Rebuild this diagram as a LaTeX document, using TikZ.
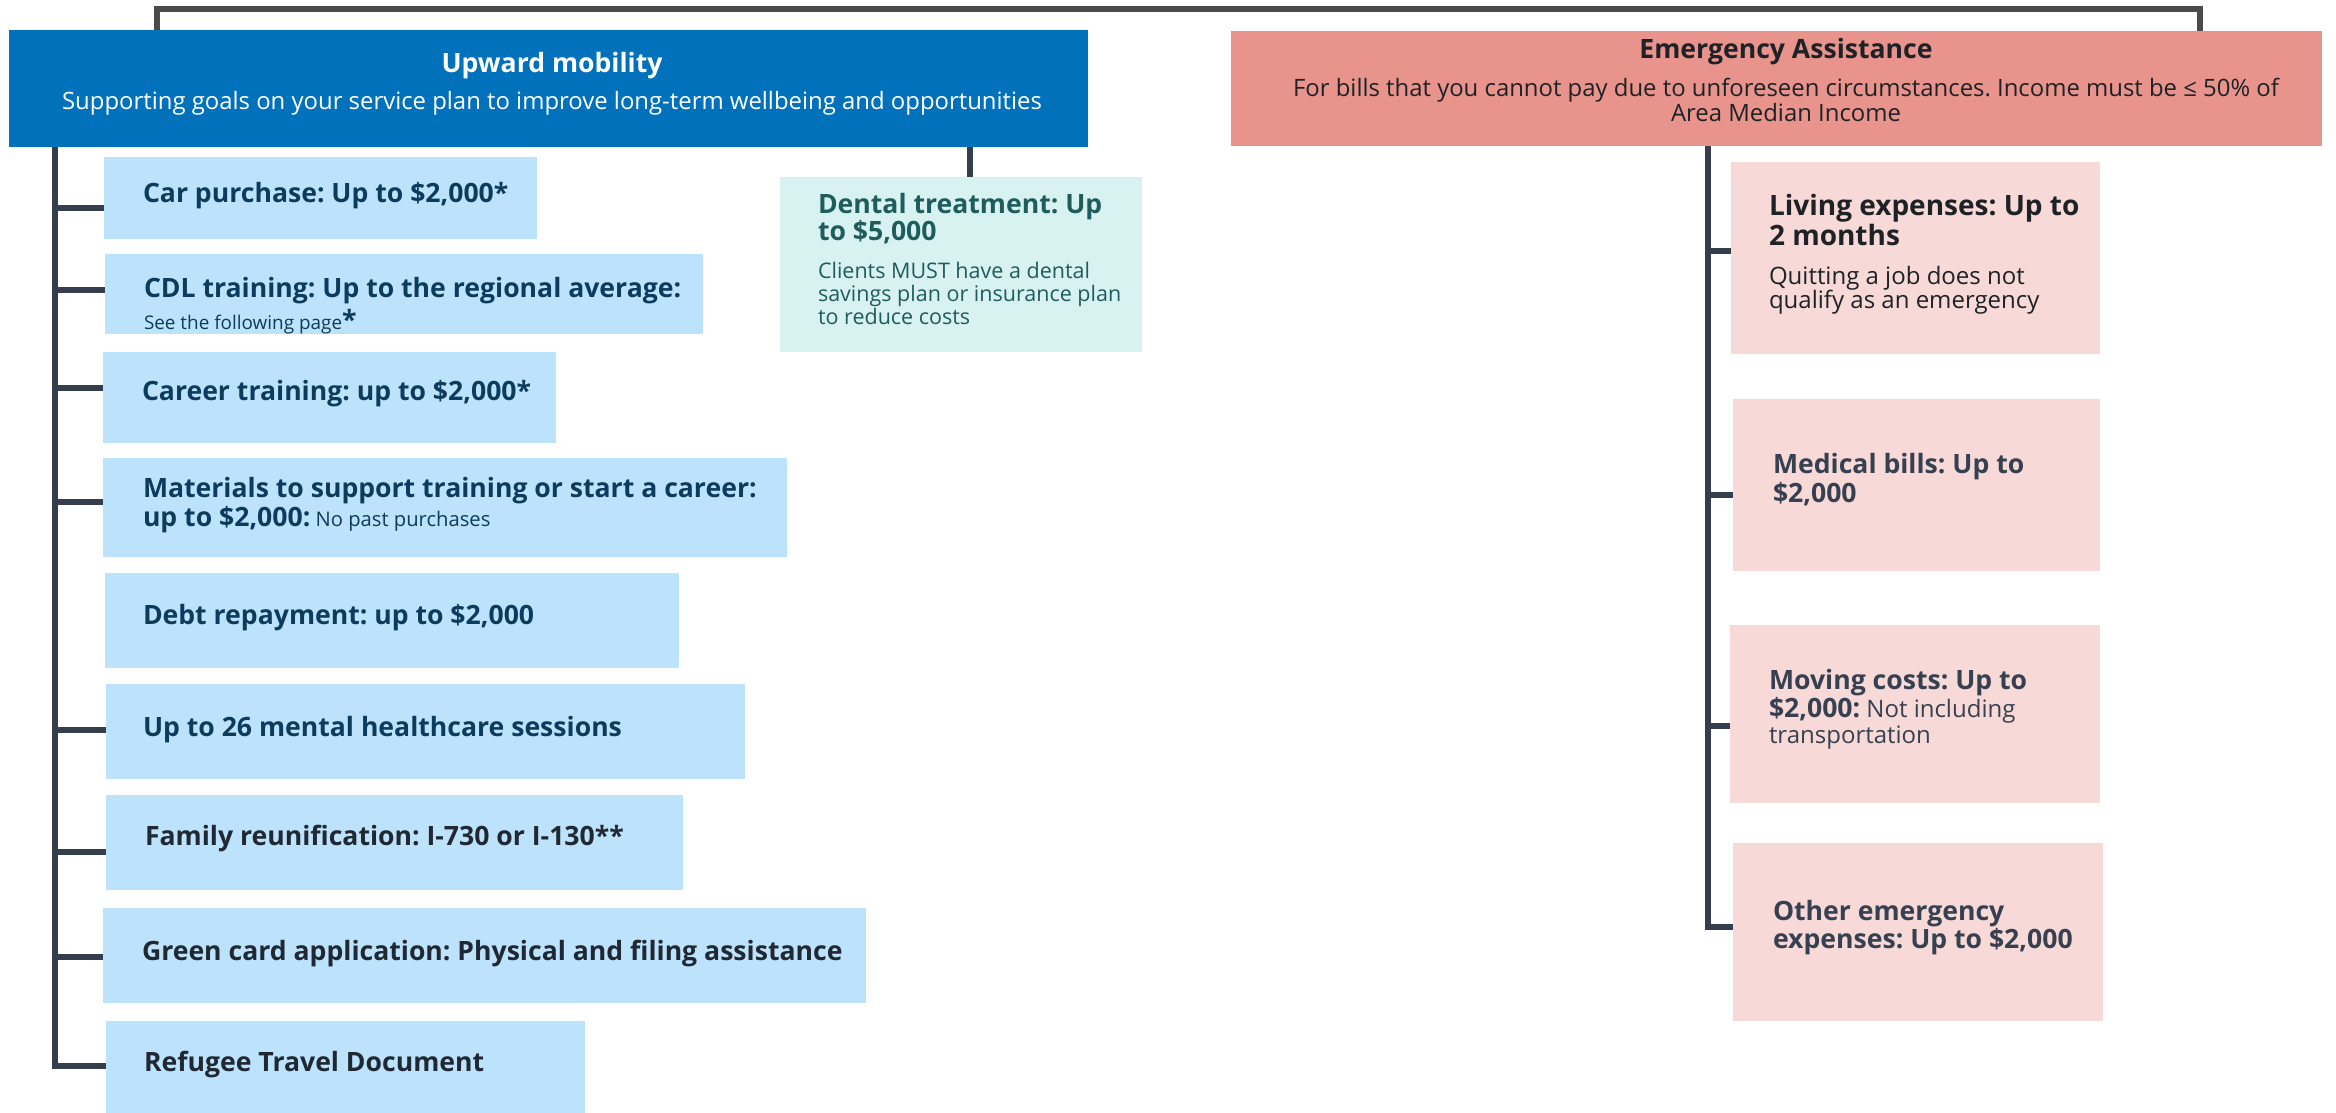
\documentclass[tikz,border=0pt]{standalone}
\usepackage{fontspec}
\setmainfont{Open Sans}
\frenchspacing
\definecolor{hdrblue}{HTML}{0171BB}
\definecolor{hdrred}{HTML}{E8938B}
\definecolor{itemblue}{HTML}{BDE3FC}
\definecolor{itempink}{HTML}{F7D9D7}
\definecolor{itemteal}{HTML}{D8F2F2}
\definecolor{connc}{HTML}{353E4C}
\definecolor{topc}{HTML}{4B4B4B}
\definecolor{navy}{HTML}{0D3B5E}
\definecolor{darkt}{HTML}{1F2833}
\definecolor{slate}{HTML}{364050}
\definecolor{tealt}{HTML}{1F5C5C}
\definecolor{blackt}{HTML}{1E2226}
\newcommand\fti{\fontsize{26.6}{30}\selectfont\bfseries}
\newcommand\ftl{\fontsize{28}{32}\selectfont\bfseries}
\newcommand\fsub{\fontsize{23.9}{27}\selectfont}
\newcommand\fbody{\fontsize{24}{27}\selectfont}
\newcommand\fdent{\fontsize{21.5}{24}\selectfont}
\begin{document}
\begin{tikzpicture}[x=1pt,y=-1pt,
  bx/.style={anchor=north west, inner sep=0pt, outer sep=0pt, draw=none},
  ln/.style={anchor=base west, inner sep=0pt, outer sep=0pt},
  lc/.style={anchor=base, inner sep=0pt, outer sep=0pt},
  conn/.style={draw=connc, line width=6pt},
  topln/.style={draw=topc, line width=6pt},
  bluebox/.style={bx, fill=itemblue},
  pinkbox/.style={bx, fill=itempink},
  ti/.style={font=\fti},
]
\path[use as bounding box, fill=white] (0,0) rectangle (2336,1113);

% top connector ends
\coordinate (tL) at (157,9);
\coordinate (tR) at (2200,9);

% headers
\node[bx, fill=hdrblue, minimum width=1079pt, minimum height=117pt] (hdrL) at (9,30) {};
\node[bx, fill=hdrred, minimum width=1091pt, minimum height=115pt] (hdrR) at (1231,31) {};
\draw[topln] (hdrL.north -| tL) -- (tL) -- (tR) -- (hdrR.north -| tR);

% left items
\node[bluebox, minimum width=433pt, minimum height=82pt] (car) at (104,157) {};
\node[bluebox, minimum width=598pt, minimum height=80pt] (cdl) at (105,254) {};
\node[bluebox, minimum width=453pt, minimum height=91pt] (career) at (103,352) {};
\node[bluebox, minimum width=684pt, minimum height=99pt] (mat) at (103,458) {};
\node[bluebox, minimum width=574pt, minimum height=95pt] (debt) at (105,573) {};
\node[bluebox, minimum width=639pt, minimum height=95pt] (mental) at (106,684) {};
\node[bluebox, minimum width=577pt, minimum height=95pt] (family) at (106,795) {};
\node[bluebox, minimum width=763pt, minimum height=95pt] (green) at (103,908) {};
\node[bluebox, minimum width=479pt, minimum height=92pt] (ref) at (106,1021) {};
\node[bx, fill=itemteal, minimum width=362pt, minimum height=175pt] (dental) at (780,177) {};

% right items
\node[pinkbox, minimum width=369pt, minimum height=192pt] (living) at (1731,162) {};
\node[pinkbox, minimum width=367pt, minimum height=172pt] (medical) at (1733,399) {};
\node[pinkbox, minimum width=370pt, minimum height=178pt] (moving) at (1730,625) {};
\node[pinkbox, minimum width=370pt, minimum height=178pt] (other) at (1733,843) {};

% left spine and branches
\coordinate (sL) at (55,0);
\draw[conn] (hdrL.south -| sL) |- ([yshift=-45pt]ref.north west);
\draw[conn] ([yshift=-51pt]car.north west -| sL) -- ([yshift=-51pt]car.north west);
\draw[conn] ([yshift=-36pt]cdl.north west -| sL) -- ([yshift=-36pt]cdl.north west);
\draw[conn] ([yshift=-36pt]career.north west -| sL) -- ([yshift=-36pt]career.north west);
\draw[conn] ([yshift=-44pt]mat.north west -| sL) -- ([yshift=-44pt]mat.north west);
\draw[conn] ([yshift=-46pt]mental.north west -| sL) -- ([yshift=-46pt]mental.north west);
\draw[conn] ([yshift=-57pt]family.north west -| sL) -- ([yshift=-57pt]family.north west);
\draw[conn] ([yshift=-49pt]green.north west -| sL) -- ([yshift=-49pt]green.north west);

% dental connector
\coordinate (dx) at (970,0);
\draw[conn] (hdrL.south -| dx) -- (dental.north -| dx);

% right spine and branches
\coordinate (sR) at (1708,0);
\draw[conn] (hdrR.south -| sR) |- ([yshift=-84pt]other.north west);
\draw[conn] ([yshift=-89pt]living.north west -| sR) -- ([yshift=-89pt]living.north west);
\draw[conn] ([yshift=-96pt]medical.north west -| sR) -- ([yshift=-96pt]medical.north west);
\draw[conn] ([yshift=-101pt]moving.north west -| sR) -- ([yshift=-101pt]moving.north west);

% header texts
\node[lc, ti, text=white] (hdrLt) at (552,73) {Upward mobility};
\node[lc, font=\fsub, text=white] (hdrLs) at (552,110) {Supporting goals on your service plan to improve long-term wellbeing and opportunities};
\node[lc, ti, text=blackt] (hdrRt) at (1786,59) {Emergency Assistance};
\node[lc, font=\fsub, text=blackt] (hdrRs1) at (1786,97) {For bills that you cannot pay due to unforeseen circumstances. Income must be ≤ 50\% of};
\node[lc, font=\fsub, text=blackt] (hdrRs2) at (1786,122) {Area Median Income};

% left item texts
\node[ln, ti, text=navy] (cart) at (143,202) {Car purchase: Up to \$2,000*};
\node[ln, ti, text=navy] (cdlt1) at (144,297) {CDL training: Up to the regional average:};
\node[ln, text=navy] (cdlt2) at (144,329) {{\fontsize{18.9}{22}\selectfont See the following page}{\fti*}};
\node[ln, ti, text=navy] (careert) at (142,400) {Career training: up to \$2,000*};
\node[ln, ti, text=navy] (matt1) at (143,497) {Materials to support training or start a career:};
\node[ln, text=navy] (matt2) at (143,526) {{\fti up to \$2,000:}{\fontsize{20.2}{23}\selectfont\ No past purchases}};
\node[ln, ti, text=navy] (debtt) at (143,624) {Debt repayment: up to \$2,000};
\node[ln, ti, text=navy] (mentalt) at (143,736) {Up to 26 mental healthcare sessions};
\node[ln, ti, text=darkt] (familyt) at (145,845) {Family reunification: I-730 or I-130**};
\node[ln, ti, text=darkt] (greent) at (142,960) {Green card application: Physical and filing assistance};
\node[ln, ti, text=darkt] (reft) at (144,1071) {Refugee Travel Document};

% dental texts
\node[ln, ti, text=tealt] (dent1) at (818,213) {Dental treatment: Up};
\node[ln, ti, text=tealt] (dent2) at (818,240) {to \$5,000};
\node[ln, font=\fdent, text=tealt] (dent3) at (818,278) {Clients MUST have a dental};
\node[ln, font=\fdent, text=tealt] (dent4) at (818,301) {savings plan or insurance plan};
\node[ln, font=\fdent, text=tealt] (dent5) at (818,324) {to reduce costs};

% right item texts
\node[ln, font=\ftl, text=blackt] (livt1) at (1769,215) {Living expenses: Up to};
\node[ln, font=\ftl, text=blackt] (livt2) at (1769,245) {2 months};
\node[ln, font=\fbody, text=blackt] (livt3) at (1769,284) {Quitting a job does not};
\node[ln, font=\fbody, text=blackt] (livt4) at (1769,308) {qualify as an emergency};
\node[ln, ti, text=slate] (medt1) at (1773,473) {Medical bills: Up to};
\node[ln, ti, text=slate] (medt2) at (1773,502) {\$2,000};
\node[ln, ti, text=slate] (movt1) at (1769,689) {Moving costs: Up to};
\node[ln, text=slate] (movt2) at (1769,717) {{\fti \$2,000:}{\fbody\ Not including}};
\node[ln, font=\fbody, text=slate] (movt3) at (1769,743) {transportation};
\node[ln, ti, text=slate] (othert1) at (1773,920) {Other emergency};
\node[ln, ti, text=slate] (othert2) at (1773,948) {expenses: Up to \$2,000};
\end{tikzpicture}
\end{document}
